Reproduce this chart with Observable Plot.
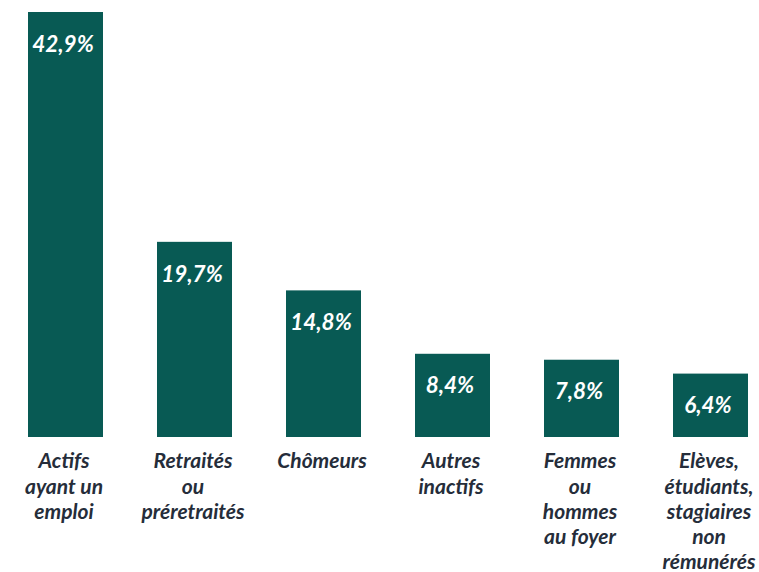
<!DOCTYPE html>
<html>
<head>
<meta charset="utf-8">
<script src="https://cdn.jsdelivr.net/npm/d3@7"></script>
<script src="https://cdn.jsdelivr.net/npm/@observablehq/plot@0.6"></script>
<style>
  html, body { margin: 0; padding: 0; background: #ffffff; }
  #chart svg { display: block; }
</style>
</head>
<body>
<div id="chart"></div>
<script>
const categories = [
  "Actifs\nayant un\nemploi",
  "Retraités\nou\npréretraités",
  "Chômeurs",
  "Autres\ninactifs",
  "Femmes\nou\nhommes\nau foyer",
  "Elèves,\nétudiants,\nstagiaires\nnon\nrémunérés"
];
const values = [42.9, 19.7, 14.8, 8.4, 7.8, 6.4];
const valueLabels = ["42,9%", "19,7%", "14,8%", "8,4%", "7,8%", "6,4%"];

const data = categories.map((c, i) => ({cat: c, value: values[i], label: valueLabels[i]}));

const chart = Plot.plot({
  width: 759,
  height: 572,
  marginLeft: 27,
  marginRight: 10,
  marginTop: 12,
  marginBottom: 135,
  style: {fontFamily: "Lato, sans-serif", background: "#ffffff"},
  x: {domain: categories, paddingInner: 0.42, paddingOuter: 0, axis: null},
  y: {domain: [0, 42.9], axis: null},
  marks: [
    Plot.barY(data, {x: "cat", y: "value", fill: "#085a54"}),
    Plot.text(data, {
      x: "cat", y: "value", text: "label", dy: 32, dx: -3,
      fill: "#ffffff", fontSize: 22.5, fontWeight: "bold", fontStyle: "italic"
    }),
    Plot.text(data, {
      x: "cat", y: 0, text: "cat", lineAnchor: "top", dy: 13, dx: -2, lineHeight: 1.2,
      fill: "#252d3a", fontSize: 21, fontWeight: "bold", fontStyle: "italic"
    })
  ]
});
document.getElementById("chart").appendChild(chart);
</script>
</body>
</html>
